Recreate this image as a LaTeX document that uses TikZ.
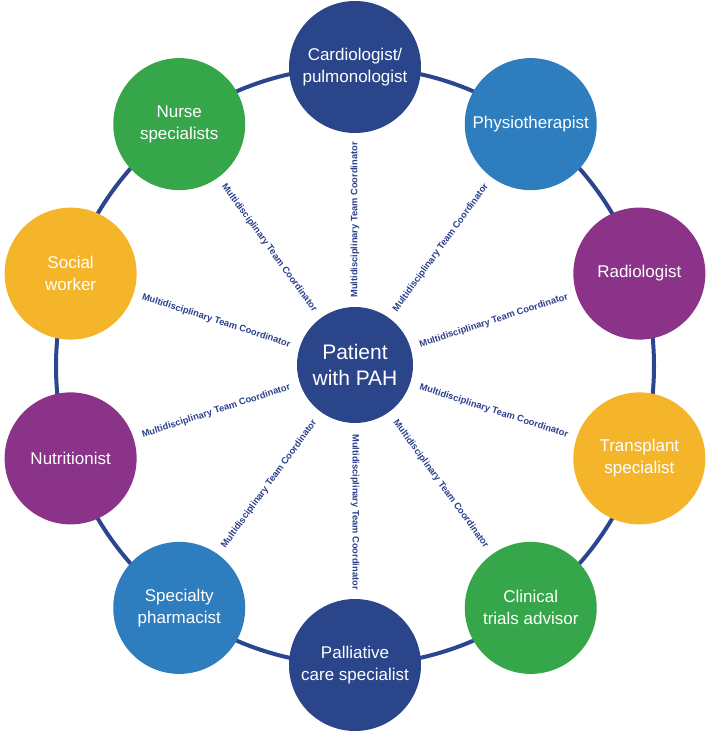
\documentclass[tikz,border=0pt]{standalone}
\usepackage{fontspec}
\setmainfont{Liberation Sans}
\definecolor{navy}{HTML}{2A4589}
\definecolor{ringblue}{HTML}{2B4590}
\definecolor{midblue}{HTML}{2E7DBE}
\definecolor{plum}{HTML}{8A3388}
\definecolor{amber}{HTML}{F5B52B}
\definecolor{leaf}{HTML}{36A64A}
\definecolor{labelblue}{HTML}{2A3F8C}
\begin{document}
\begin{tikzpicture}[x=1pt,y=1pt,
  member/.style={circle, minimum size=132pt, inner sep=0pt, text=white,
    font=\fontsize{17}{22}\selectfont, align=center},
  patientnode/.style={circle, minimum size=116pt, inner sep=0pt, text=white, fill=navy,
    font=\fontsize{21}{26}\selectfont, align=center},
  ringline/.style={draw=ringblue, line width=4pt},
  coord/.style={text=labelblue, font=\fontsize{9.3}{11}\selectfont\bfseries, inner sep=0pt}
]
\useasboundingbox (-355,-367) rectangle (353,366);
\coordinate (c) at (0,0);
\draw[ringline] (c) circle (299pt);
\node[patientnode] (patient) at (0,1) {Patient\\with PAH};
\node[member, fill=navy]    (card)   at (90:299pt)   {Cardiologist/\\pulmonologist};
\node[member, fill=midblue] (physio) at (54:299pt)   {Physiotherapist};
\node[member, fill=plum]    (radio)  at (18:299pt)   {Radiologist};
\node[member, fill=amber]   (trans)  at (-18:299pt)  {Transplant\\specialist};
\node[member, fill=leaf]    (clin)   at (-54:299pt)  {Clinical\\trials advisor};
\node[member, fill=navy]    (pall)   at (-90:299pt)  {Palliative\\care specialist};
\node[member, fill=midblue] (pharm)  at (-126:299pt) {Specialty\\pharmacist};
\node[member, fill=plum]    (nutr)   at (-162:299pt) {Nutritionist};
\node[member, fill=amber]   (social) at (162:299pt)  {Social\\worker};
\node[member, fill=leaf]    (nurse)  at (126:299pt)  {Nurse\\specialists};
\node[coord, rotate=90]  (l1)  at (90:146pt)   {Multidisciplinary Team Coordinator};
\node[coord, rotate=54]  (l2)  at (54:146pt)   {Multidisciplinary Team Coordinator};
\node[coord, rotate=18]  (l3)  at (18:146pt)   {Multidisciplinary Team Coordinator};
\node[coord, rotate=-18] (l4)  at (-18:146pt)  {Multidisciplinary Team Coordinator};
\node[coord, rotate=-54] (l5)  at (-54:146pt)  {Multidisciplinary Team Coordinator};
\node[coord, rotate=-90] (l6)  at (-90:146pt)  {Multidisciplinary Team Coordinator};
\node[coord, rotate=54]  (l7)  at (-126:146pt) {Multidisciplinary Team Coordinator};
\node[coord, rotate=18]  (l8)  at (-162:146pt) {Multidisciplinary Team Coordinator};
\node[coord, rotate=-18] (l9)  at (162:146pt)  {Multidisciplinary Team Coordinator};
\node[coord, rotate=-54] (l10) at (126:146pt)  {Multidisciplinary Team Coordinator};
\end{tikzpicture}
\end{document}
